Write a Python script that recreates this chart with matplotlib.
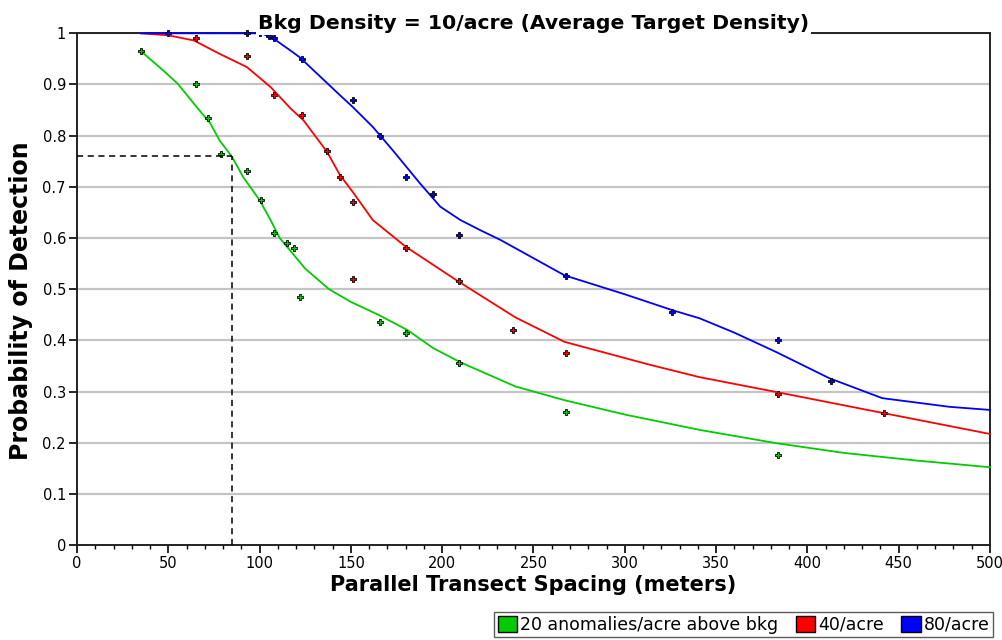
import matplotlib
matplotlib.use("Agg")
import matplotlib.pyplot as plt
from matplotlib.patches import Patch
from matplotlib.ticker import MultipleLocator

plt.rcParams['font.family'] = ['DejaVu Sans']

# fitted curves
green_x = [35, 47, 55, 65.5, 73, 78, 85, 91, 100, 106, 111, 125, 138, 150, 165, 181, 195, 210, 240, 267, 300, 341, 383, 420, 460, 500]
green_y = [0.965, 0.928, 0.902, 0.856, 0.824, 0.791, 0.758, 0.719, 0.674, 0.635, 0.60, 0.54, 0.50, 0.475, 0.45, 0.42, 0.385, 0.357, 0.31, 0.283, 0.255, 0.225, 0.199, 0.18, 0.165, 0.152]

red_x = [35, 50, 64, 78, 93, 106, 117, 124, 137, 144, 151, 162, 180, 208, 240, 267, 314, 341, 383, 420, 460, 500]
red_y = [1.0, 0.996, 0.986, 0.96, 0.934, 0.895, 0.853, 0.83, 0.768, 0.723, 0.69, 0.635, 0.583, 0.517, 0.445, 0.397, 0.352, 0.328, 0.299, 0.273, 0.245, 0.217]

blue_x = [35, 101, 107.5, 116.6, 122, 144, 151, 162, 173, 188, 199, 210, 221, 232, 267, 300, 326, 341, 360, 383, 412, 441, 478, 500]
blue_y = [1.0, 1.0, 0.99, 0.967, 0.953, 0.879, 0.856, 0.817, 0.771, 0.706, 0.661, 0.635, 0.615, 0.596, 0.527, 0.49, 0.459, 0.443, 0.415, 0.377, 0.326, 0.287, 0.27, 0.264]

# observed points
green_px = [35, 65, 72, 79, 93, 101, 108, 115, 119, 122, 166, 180, 209, 268, 384]
green_py = [0.965, 0.90, 0.835, 0.765, 0.73, 0.675, 0.61, 0.59, 0.58, 0.485, 0.435, 0.415, 0.355, 0.26, 0.175]

red_px = [65, 93, 108, 123, 137, 144, 151, 151, 180, 209, 239, 268, 384, 442]
red_py = [0.99, 0.955, 0.88, 0.84, 0.77, 0.72, 0.67, 0.52, 0.58, 0.515, 0.42, 0.375, 0.295, 0.258]

blue_px = [50, 93, 100, 105, 108, 123, 151, 166, 180, 195, 209, 268, 326, 384, 413]
blue_py = [1.0, 1.0, 1.0, 0.995, 0.99, 0.95, 0.87, 0.80, 0.72, 0.685, 0.605, 0.525, 0.455, 0.40, 0.32]

ref_x = 85
ref_y = 0.76

labels = ["20 anomalies/acre above bkg", "40/acre", "80/acre"]
colors = ["#00cc00", "#ff0000", "#0000ff"]

fig = plt.figure(figsize=(10.03, 6.40), dpi=100)
ax = fig.add_axes([0.0768, 0.1484, 0.9102, 0.7996])

for y in [i / 10 for i in range(1, 11)]:
    ax.axhline(y, color="#c4c4c4", lw=1.6, zorder=0)

# curves drawn above the frame so the y=1 stretch stays visible
ax.plot(green_x, green_y, color=colors[0], lw=1.3, zorder=3, clip_on=False)
ax.plot(red_x, red_y, color=colors[1], lw=1.3, zorder=3, clip_on=False)
ax.plot(blue_x, blue_y, color=colors[2], lw=1.3, zorder=3, clip_on=False)

for px, py, c in [(green_px, green_py, colors[0]), (red_px, red_py, colors[1]), (blue_px, blue_py, colors[2])]:
    ax.plot(px, py, ls="none", marker="P", ms=4, mfc=c, mec="black", mew=0.6, zorder=4, clip_on=False)

ax.plot([0, ref_x], [ref_y, ref_y], color="black", ls=(0, (4, 3)), lw=1.1, zorder=4)
ax.plot([ref_x, ref_x], [0, ref_y], color="black", ls=(0, (4, 3)), lw=1.1, zorder=4)

ax.set_xlim(0, 500)
ax.set_ylim(0, 1)
ax.set_xticks(range(0, 501, 50))
ax.xaxis.set_minor_locator(MultipleLocator(10))
ax.set_yticks([i / 10 for i in range(0, 11)])
ax.set_yticklabels(["0", "0.1", "0.2", "0.3", "0.4", "0.5", "0.6", "0.7", "0.8", "0.9", "1"])
ax.tick_params(labelsize=10.5, length=6, width=1.2, direction="out", pad=2)
ax.tick_params(axis="x", which="minor", length=3, width=1)
for s in ax.spines.values():
    s.set_linewidth(1.4)
    s.set_color("#222222")

ax.set_xlabel("Parallel Transect Spacing (meters)", fontsize=15, fontweight="bold", labelpad=3)
ax.set_ylabel("Probability of Detection", fontsize=17, fontweight="bold")
ax.yaxis.set_label_coords(-0.048, 0.477)
ax.set_title("Bkg Density = 10/acre (Average Target Density)", fontsize=14.7, fontweight="bold",
             pad=0, bbox=dict(facecolor="white", edgecolor="none", pad=1.5), zorder=10)

handles = [Patch(facecolor=c, edgecolor="black", label=l) for c, l in zip(colors, labels)]
fig.legend(handles=handles, loc="lower right", bbox_to_anchor=(0.993, 0.0), ncol=3, fontsize=12.5,
           frameon=True, fancybox=False, edgecolor="#333333", handlelength=1.1, handleheight=1.0,
           handletextpad=0.2, columnspacing=1.0, borderpad=0.2, borderaxespad=0.15)

fig.savefig("out.png", dpi=100)
